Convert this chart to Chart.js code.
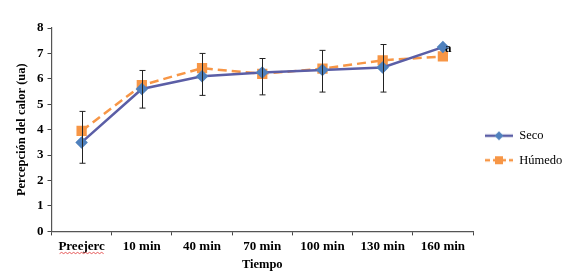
<!DOCTYPE html>
<html><head><meta charset="utf-8">
<script src="https://cdn.jsdelivr.net/npm/chart.js@4/dist/chart.umd.min.js"></script>
<style>html,body{margin:0;padding:0;background:#fff}#wrap{width:566px;height:279px}</style>
</head><body><div id="wrap"><canvas id="c" width="566" height="279"></canvas></div>
<script>
const categories = ['Preejerc','10 min','40 min','70 min','100 min','130 min','160 min'];
const seco = [3.5, 5.6, 6.1, 6.25, 6.35, 6.45, 7.25];
const humedo = [3.95, 5.75, 6.42, 6.2, 6.4, 6.73, 6.88];
const errHigh = [4.72, 6.33, 7.0, 6.8, 7.12, 7.35, null];
const errLow = [2.68, 4.85, 5.35, 5.37, 5.48, 5.48, null];
const yTicks = [0,1,2,3,4,5,6,7,8];
const annotation = {index: 6, text: 'a'};

function legendIcon(color, dash, shape){
  const cv = document.createElement('canvas'); cv.width = 28; cv.height = 10;
  const g = cv.getContext('2d');
  g.strokeStyle = color; g.lineWidth = 2.5; g.setLineDash(dash);
  g.beginPath(); g.moveTo(0,5); g.lineTo(28,5); g.stroke();
  g.fillStyle = shape === 'sq' ? '#f79646' : '#4f81bd';
  if (shape === 'sq') g.fillRect(10,1,8,8);
  else { g.beginPath(); g.moveTo(14,0.5); g.lineTo(18.5,5); g.lineTo(14,9.5); g.lineTo(9.5,5); g.closePath(); g.fill(); }
  return cv;
}

const legendNudge = {
  id: 'legendNudge',
  beforeDraw(chart){ const l = chart.legend; if (l && !l._nudged) { l.top -= 2; l.bottom -= 2; l._nudged = true; } }
};

const errorBars = {
  id: 'errorBars',
  afterDatasetsDraw(chart){
    const {ctx, scales:{x, y}} = chart;
    ctx.save(); ctx.strokeStyle = '#222'; ctx.lineWidth = 1;
    errHigh.forEach((h,i)=>{
      if (h == null) return;
      const px = Math.round(x.getPixelForValue(i)) + 0.5;
      const t = y.getPixelForValue(h), b = y.getPixelForValue(errLow[i]);
      ctx.beginPath(); ctx.moveTo(px,t); ctx.lineTo(px,b);
      ctx.moveTo(px-3,t); ctx.lineTo(px+3,t); ctx.moveTo(px-3,b); ctx.lineTo(px+3,b); ctx.stroke();
    });
    const px = x.getPixelForValue(annotation.index), py = y.getPixelForValue(seco[annotation.index]);
    ctx.fillStyle = '#000'; ctx.font = 'bold 13px "Liberation Serif"';
    ctx.textBaseline = 'middle'; ctx.fillText(annotation.text, px + 2, py + 2);
    // spell-check squiggle under first label
    const lx = x.getPixelForValue(0), ly = x.top + 21;
    ctx.strokeStyle = '#e03030'; ctx.lineWidth = 0.8; ctx.beginPath();
    for (let k = -22; k <= 22; k += 2) { const yy = ly + (k % 4 === 0 ? 0 : 1.2); if (k === -22) ctx.moveTo(lx+k, yy); else ctx.lineTo(lx+k, yy); }
    ctx.stroke();
    ctx.restore();
  }
};

new Chart(document.getElementById('c'), {
  type: 'line',
  data: {
    labels: categories,
    datasets: [
      {label:'Seco', data: seco, borderColor:'#5b5ea6', borderWidth:2.5, pointStyle:'rectRot', pointRadius:4.5, pointBackgroundColor:'#4f81bd', pointBorderColor:'#4f81bd', tension:0},
      {label:'Húmedo', data: humedo, borderColor:'#f79646', borderWidth:2.5, borderDash:[9,5], pointStyle:'rect', pointRadius:5.5, pointBackgroundColor:'#f79646', pointBorderColor:'#f79646', tension:0}
    ]
  },
  options: {
    responsive:false, animation:false,
    layout:{padding:{top:28, bottom:7, left:14, right:0}},
    plugins:{
      tooltip:{enabled:false},
      legend:{position:'right', maxWidth:93, labels:{
        font:{family:'"Liberation Serif"', size:12.5}, color:'#000', usePointStyle:true, pointStyleWidth:28, padding:12,
        generateLabels(chart){
          return [
            {text:'Seco', pointStyle: legendIcon('#5b5ea6',[], 'di'), fillStyle:'#fff', strokeStyle:'#fff', lineWidth:0, datasetIndex:0, fontColor:'#000'},
            {text:'Húmedo', pointStyle: legendIcon('#f79646',[5,3], 'sq'), fillStyle:'#fff', strokeStyle:'#fff', lineWidth:0, datasetIndex:1, fontColor:'#000'}
          ];
        }
      }}
    },
    scales:{
      x:{offset:true, grid:{offset:true, drawOnChartArea:false, color:'#444', tickLength:4, tickColor:'#444'}, border:{color:'#555', width:1.2},
        ticks:{font:{family:'"Liberation Serif"', size:13, weight:'bold'}, color:'#000', maxRotation:0, padding:3},
        title:{display:true, text:'Tiempo', font:{family:'"Liberation Serif"', size:12.5, weight:'bold'}, color:'#000', padding:{top:0,bottom:0}}},
      y:{min:0, max:8, afterBuildTicks(s){ s.ticks = yTicks.map(v=>({value:v})); },
        grid:{drawOnChartArea:false, tickLength:4, tickColor:'#444'}, border:{color:'#555', width:1.2},
        ticks:{font:{family:'"Liberation Serif"', size:13, weight:'bold'}, color:'#000', padding:4},
        title:{display:true, text:'Percepción del calor (ua)', font:{family:'"Liberation Serif"', size:12.5, weight:'bold'}, color:'#000', padding:{top:0,bottom:4}}}
    }
  },
  plugins:[errorBars, legendNudge]
});
</script></body></html>
